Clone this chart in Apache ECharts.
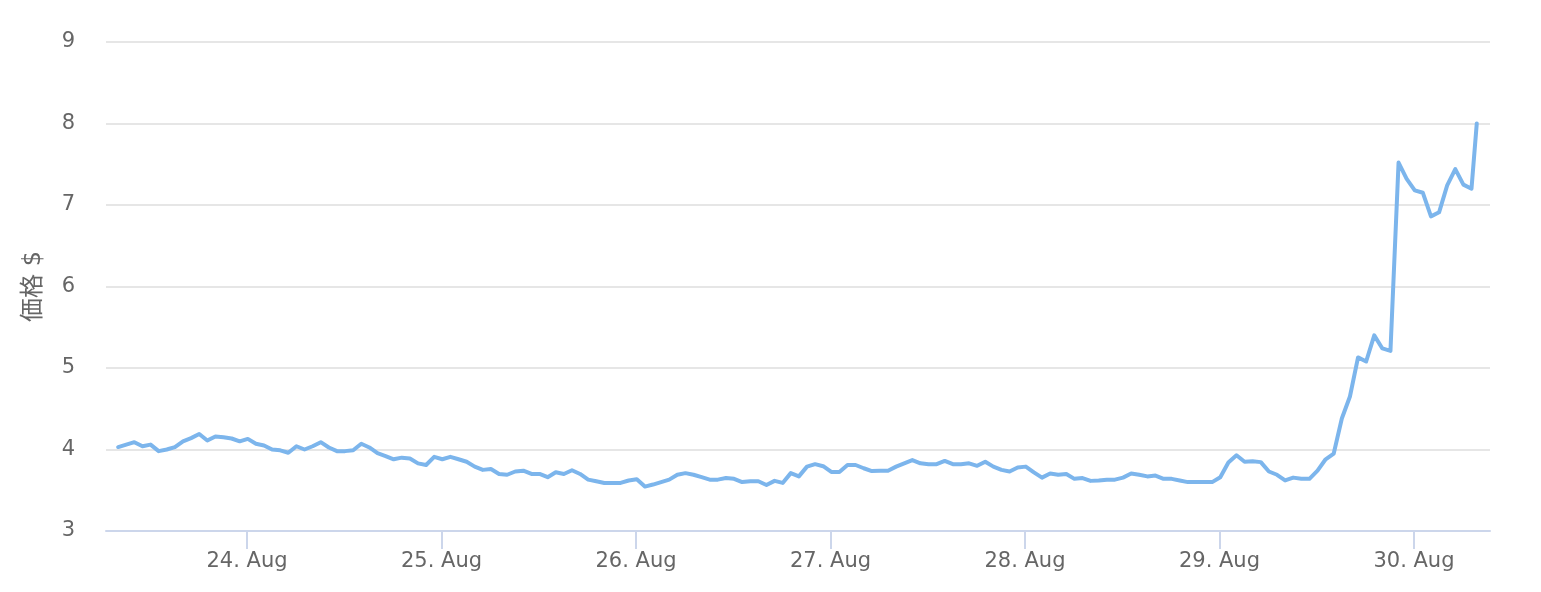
<!DOCTYPE html>
<html>
<head>
<meta charset="utf-8">
<style>
  html, body { margin: 0; padding: 0; background: #ffffff; }
  #chart { width: 1541px; height: 592px; }
</style>
<script src="https://cdn.jsdelivr.net/npm/echarts@6/dist/echarts.min.js"></script>
</head>
<body>
<div id="chart"></div>
<script>
// Hourly prices (USD), starting 23 Aug 08:06, last value at 30 Aug 07:45
const prices = [
  4.03, 4.06, 4.09, 4.04, 4.06, 3.98, 4.00, 4.03, 4.10, 4.14,
  4.19, 4.11, 4.16, 4.15, 4.135, 4.10, 4.13, 4.07, 4.05, 4.00,
  3.99, 3.96, 4.04, 4.00, 4.04, 4.09, 4.025, 3.98, 3.98, 3.99,
  4.07, 4.025, 3.955, 3.92, 3.88, 3.90, 3.89, 3.83, 3.81, 3.91,
  3.88, 3.91, 3.88, 3.85, 3.79, 3.75, 3.76, 3.70, 3.69, 3.73,
  3.74, 3.70, 3.70, 3.66, 3.72, 3.70, 3.745, 3.70, 3.63, 3.61,
  3.59, 3.59, 3.59, 3.62, 3.635, 3.545, 3.57, 3.60, 3.63, 3.69,
  3.71, 3.69, 3.66, 3.63, 3.63, 3.65, 3.64, 3.60, 3.61, 3.61,
  3.565, 3.615, 3.59, 3.71, 3.67, 3.79, 3.82, 3.795, 3.725, 3.725,
  3.81, 3.81, 3.77, 3.735, 3.74, 3.74, 3.79, 3.83, 3.87, 3.83,
  3.82, 3.82, 3.86, 3.82, 3.82, 3.83, 3.80, 3.85, 3.79, 3.75,
  3.73, 3.78, 3.79, 3.72, 3.655, 3.705, 3.69, 3.70, 3.64, 3.65,
  3.615, 3.62, 3.63, 3.63, 3.655, 3.705, 3.69, 3.67, 3.68, 3.64,
  3.64, 3.62, 3.60, 3.60, 3.60, 3.60, 3.66, 3.84, 3.93, 3.85,
  3.855, 3.845, 3.73, 3.69, 3.62, 3.655, 3.64, 3.64, 3.74, 3.88,
  3.95, 4.38, 4.65, 5.13, 5.08, 5.40, 5.24, 5.21, 7.52, 7.32,
  7.18, 7.15, 6.86, 6.91, 7.24, 7.44, 7.25, 7.20, 8.00
];

const startTime = new Date(2023, 7, 23, 8, 6).getTime();
const lastTime = new Date(2023, 7, 30, 7, 45).getTime();
const HOUR = 3600 * 1000;
const times = prices.map((v, i) => (i === prices.length - 1 ? lastTime : startTime + i * HOUR));

const axisMin = new Date(2023, 7, 23, 6, 36).getTime();
const axisMax = new Date(2023, 7, 30, 9, 23).getTime();
const monthName = 'Aug';
const yTicks = { min: 3, max: 9, interval: 1 };
const yTitle = '価格 $';

const seriesData = times.map((t, i) => [t, prices[i]]);

const font = '"DejaVu Sans", "Noto Sans CJK JP", sans-serif';
const chart = echarts.init(document.getElementById('chart'), null, { renderer: 'canvas' });
chart.setOption({
  animation: false,
  backgroundColor: '#ffffff',
  grid: { left: 106, right: 51, top: 42, bottom: 61, containLabel: false, outerBoundsMode: 'none' },
  xAxis: {
    type: 'time',
    min: axisMin,
    max: axisMax,
    minInterval: 24 * HOUR,
    maxInterval: 24 * HOUR,
    axisLine: { show: true, lineStyle: { color: '#ccd6eb', width: 2 } },
    axisTick: { show: true, length: 18, lineStyle: { color: '#ccd6eb', width: 2 } },
    splitLine: { show: false },
    minorTick: { show: false },
    axisLabel: {
      color: '#666666',
      fontSize: 21,
      fontFamily: font,
      margin: 20,
      showMinLabel: false,
      showMaxLabel: false,
      formatter: function (val) {
        const d = new Date(val);
        return d.getDate() + '. ' + monthName;
      }
    }
  },
  yAxis: {
    type: 'value',
    min: yTicks.min,
    max: yTicks.max,
    interval: yTicks.interval,
    name: yTitle,
    nameLocation: 'middle',
    nameGap: 60,
    nameRotate: 90,
    nameTextStyle: { color: '#666666', fontSize: 24, fontFamily: font },
    axisLine: { show: false },
    axisTick: { show: false },
    splitLine: { show: true, lineStyle: { color: '#e6e6e6', width: 2 } },
    axisLabel: { color: '#666666', fontSize: 21, fontFamily: font, margin: 31 }
  },
  series: [{
    type: 'line',
    data: seriesData,
    showSymbol: false,
    symbol: 'none',
    lineStyle: { color: '#7cb5ec', width: 4, cap: 'round', join: 'round' },
    itemStyle: { color: '#7cb5ec' },
    z: 3
  }]
});
</script>
</body>
</html>
